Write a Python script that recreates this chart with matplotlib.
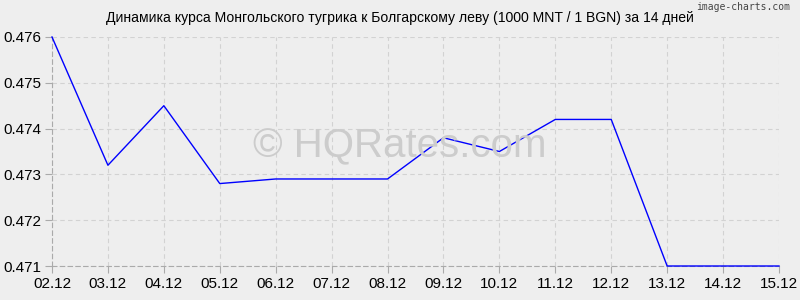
import matplotlib
matplotlib.use("Agg")
import matplotlib.pyplot as plt

dates = ["02.12", "03.12", "04.12", "05.12", "06.12", "07.12", "08.12",
         "09.12", "10.12", "11.12", "12.12", "13.12", "14.12", "15.12"]
rates = [0.4760, 0.4732, 0.4745, 0.4728, 0.4729, 0.4729, 0.4729,
         0.4738, 0.4735, 0.4742, 0.4742, 0.4710, 0.4710, 0.4710]
yticks = [0.471, 0.472, 0.473, 0.474, 0.475, 0.476]
title = "Динамика курса Монгольского тугрика к Болгарскому леву (1000 MNT / 1 BGN) за 14 дней"

plt.rcParams['font.family'] = ['Liberation Sans', 'DejaVu Sans']
bg = "#eeeeee"
fig = plt.figure(figsize=(8, 3), dpi=100, facecolor=bg)
ax = fig.add_axes([52/800, 1 - 266/300, (779-52)/800, (266-37)/300], facecolor=bg)

x = list(range(len(dates)))
ax.plot(x, rates, color="#0000ff", lw=1.0, zorder=3, clip_on=False)

ax.set_xlim(0, len(dates) - 1)
ax.set_ylim(0.471, 0.476)
ax.set_xticks(x)
ax.set_xticklabels(dates)
ax.set_yticks(yticks)
ax.set_yticklabels([f"{v:.3f}" for v in yticks])
ax.grid(True, color="#d2d2d2", linestyle=(0, (4, 3)), lw=0.8)
for s in ["top", "right"]:
    ax.spines[s].set_visible(False)
for s in ["left", "bottom"]:
    ax.spines[s].set_color("#aaaaaa")
    ax.spines[s].set_linestyle((0, (4, 3)))
    ax.spines[s].set_linewidth(0.8)
ax.tick_params(axis="both", colors="#aaaaaa", labelcolor="#000000", labelsize=11, length=5, width=0.8)
ax.tick_params(axis="x", pad=3)
ax.tick_params(axis="y", pad=3)

fig.text(400/800, 1 - 18/300, title, ha="center", va="center", fontsize=10.1, color="#000000")
fig.text(790/800, 1 - 7/300, "image-charts.com", ha="right", va="center", fontsize=7,
         color="#444444", family=["DejaVu Sans Mono"])
fig.text(400/800, 1 - 146/300, "© HQRates.com", ha="center", va="center",
         fontsize=29, color="#cccccc", zorder=1)

fig.savefig("out.png", dpi=100, facecolor=bg)
